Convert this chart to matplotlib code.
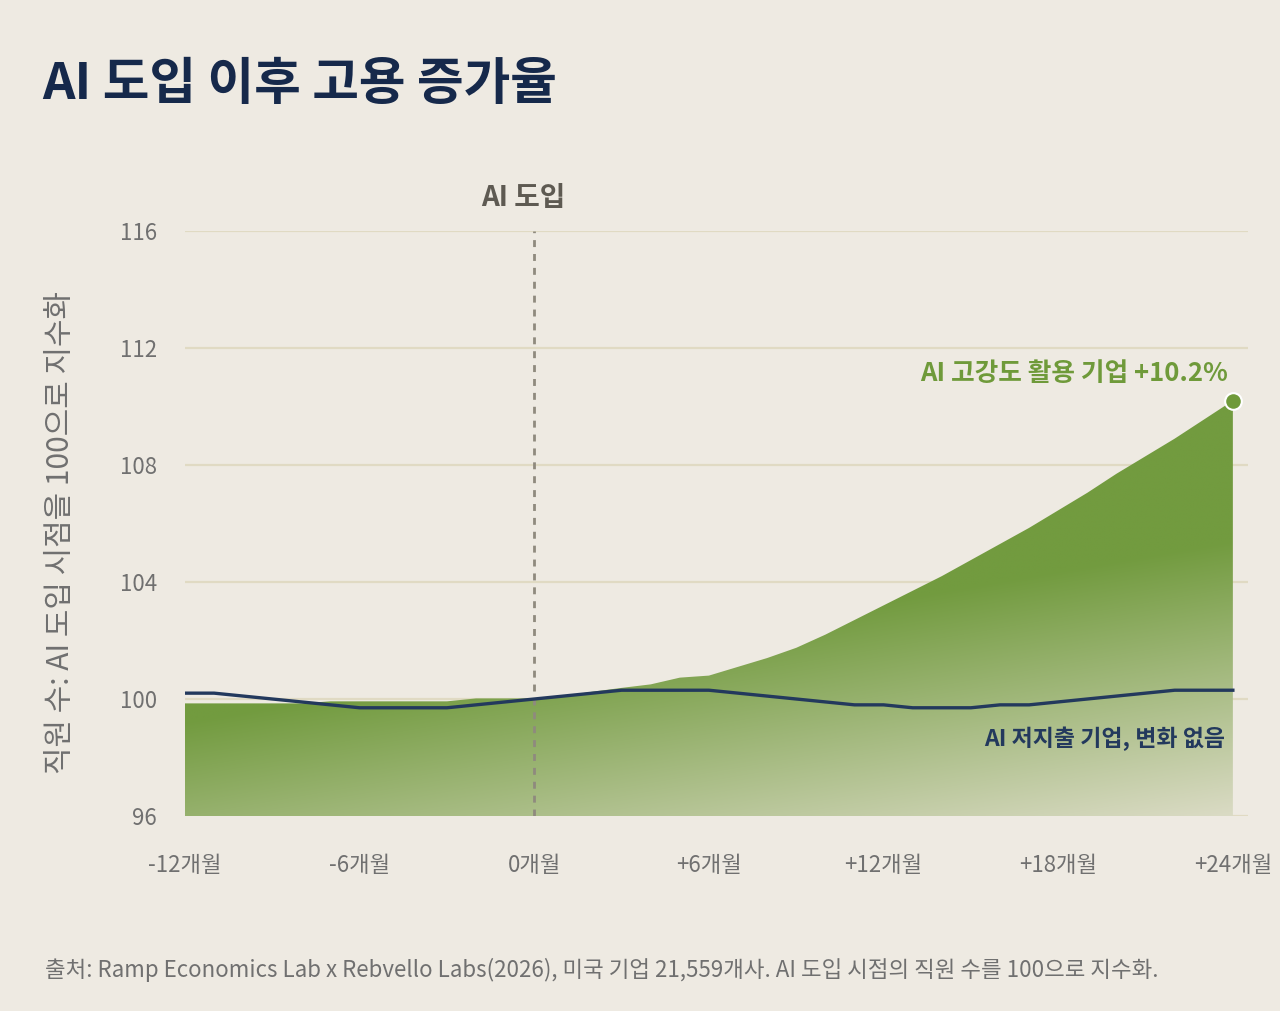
import numpy as np
import matplotlib
matplotlib.use("Agg")
import matplotlib.pyplot as plt
from matplotlib.colors import to_rgb

plt.rcParams["font.family"] = ["Noto Sans CJK KR", "DejaVu Sans"]

# months relative to AI adoption
months = list(range(-12, 25))

# AI heavy users (index, adoption month = 100)
high_ai = [99.85, 99.85, 99.85, 99.85, 99.85, 99.92, 99.92, 99.92, 99.92, 99.92,
           100.02, 100.02, 100.02,
           100.1, 100.25, 100.38, 100.5, 100.73, 100.8, 101.1, 101.4, 101.75,
           102.2, 102.7, 103.2, 103.7, 104.2, 104.75, 105.3, 105.85, 106.45,
           107.05, 107.7, 108.3, 108.9, 109.55, 110.2]

# AI low spenders
low_ai = [100.2, 100.2, 100.1, 100.0, 99.9, 99.8, 99.7, 99.7, 99.7, 99.7,
          99.8, 99.9, 100.0,
          100.1, 100.2, 100.3, 100.3, 100.3, 100.3, 100.2, 100.1, 100.0,
          99.9, 99.8, 99.8, 99.7, 99.7, 99.7, 99.8, 99.8, 99.9,
          100.0, 100.1, 100.2, 100.3, 100.3, 100.3]

x_ticks = [-12, -6, 0, 6, 12, 18, 24]
x_labels = ["-12개월", "-6개월", "0개월", "+6개월", "+12개월", "+18개월", "+24개월"]
y_ticks = [96, 100, 104, 108, 112, 116]

BG = "#eeeae2"
GREEN_DARK = "#729b3f"
GREEN_LIGHT = "#e1dfcd"
NAVY = "#23395d"
GRID = "#e0dac3"
GREY = "#707070"

fig = plt.figure(figsize=(12.8, 10.11), dpi=100, facecolor=BG)
ax = fig.add_axes([185 / 1280, 1 - 816 / 1011, (1248 - 185) / 1280, (816 - 231) / 1011])
ax.set_facecolor(BG)
ax.set_xlim(-12, 24.52)
ax.set_ylim(96, 116)

for yv in y_ticks:
    ax.axhline(yv, color=GRID, lw=1.6, zorder=0)

# gradient fill clipped to the area under the high-AI curve
poly = ax.fill_between(months, high_ai, 96, facecolor="none", edgecolor="none")
nx, ny = 400, 300
u = np.linspace(0, 1, nx)[None, :]
w = np.linspace(1, 0, ny)[:, None]
t = np.clip(0.62 * u + 2.0 * (0.16 - w), 0, 1)
c0 = np.array(to_rgb(GREEN_DARK))
c1 = np.array(to_rgb(GREEN_LIGHT))
img = c0[None, None, :] * (1 - t[..., None]) + c1[None, None, :] * t[..., None]
im = ax.imshow(img, extent=[-12, 24, 96, 116], aspect="auto", zorder=1,
               interpolation="bilinear")
im.set_clip_path(poly.get_paths()[0], transform=ax.transData)

# adoption marker
ax.axvline(0, ymin=0, ymax=1, color="#8f8a7e", lw=2, linestyle=(0, (2.5, 2.5)), zorder=2)

ax.plot(months, low_ai, color=NAVY, lw=2.4, zorder=3, solid_joinstyle="round")
ax.plot([months[-1]], [high_ai[-1]], "o", color="#6f9a3a", markersize=12,
        markeredgecolor="white", markeredgewidth=1.5, zorder=4)

ax.annotate("AI 고강도 활용 기업 +10.2%", xy=(months[-1], high_ai[-1]),
            xytext=(-5, 27), textcoords="offset pixels", ha="right", va="center",
            fontsize=18.5, fontweight="bold", color="#6f9a3a")
ax.annotate("AI 저지출 기업, 변화 없음", xy=(months[-1], low_ai[-1]),
            xytext=(-8, -49), textcoords="offset pixels", ha="right", va="center",
            fontsize=16.5, fontweight="bold", color=NAVY)

ax.set_xticks(x_ticks)
ax.set_xticklabels(x_labels)
ax.set_yticks(y_ticks)
ax.set_yticklabels([str(v) for v in y_ticks])
ax.tick_params(axis="x", length=0, pad=27, labelsize=16, labelcolor=GREY)
ax.tick_params(axis="y", length=0, pad=20, labelsize=16, labelcolor=GREY)
for lab in ax.get_xticklabels() + ax.get_yticklabels():
    lab.set_fontweight("light")
for s in ax.spines.values():
    s.set_visible(False)

fig.text(42 / 1280, 1 - 99 / 1011, "AI 도입 이후 고용 증가율", fontsize=36.5,
         fontweight="bold", color="#16294b", ha="left", va="baseline")
fig.text(523 / 1280, 1 - 198 / 1011, "AI 도입", fontsize=20, fontweight="bold",
         color="#5e5a52", ha="center", va="center")
fig.text(61 / 1280, 1 - 533 / 1011, "직원 수: AI 도입 시점을 100으로 지수화",
         rotation=90, fontsize=21.5, color=GREY, ha="center", va="center")
fig.text(45 / 1280, 1 - 970 / 1011,
         "출처: Ramp Economics Lab x Rebvello Labs(2026), 미국 기업 21,559개사. "
         "AI 도입 시점의 직원 수를 100으로 지수화.",
         fontsize=16.1, color=GREY, ha="left", va="center")

fig.savefig("out.png", dpi=100, facecolor=BG)
